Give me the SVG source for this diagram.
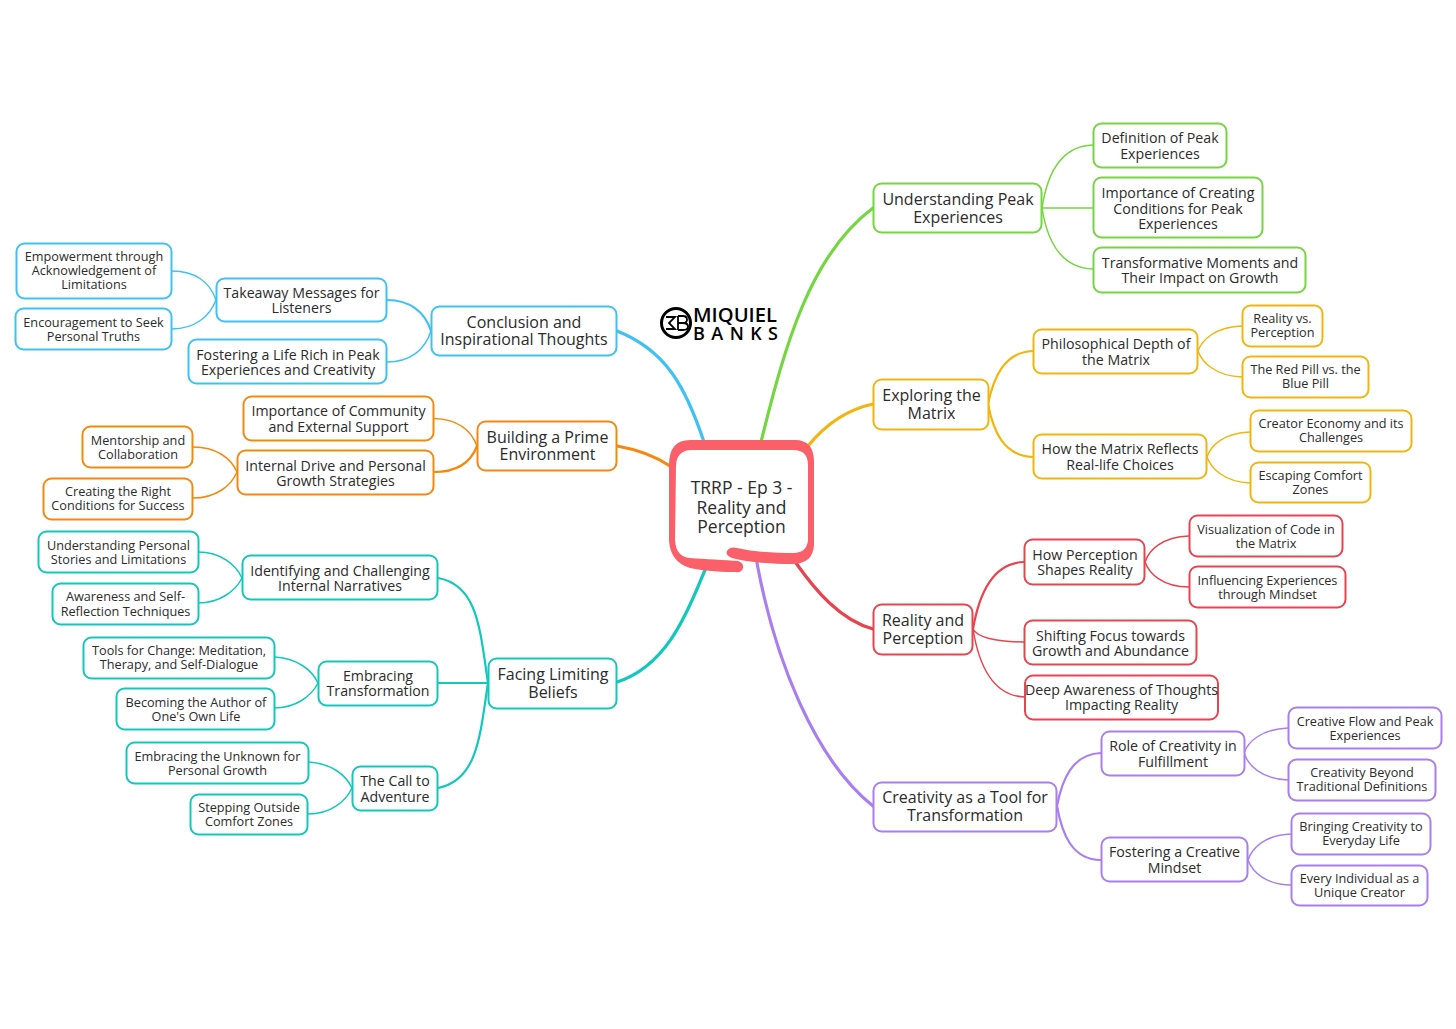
<svg xmlns="http://www.w3.org/2000/svg" width="1456" height="1029" viewBox="0 0 1456 1029">
<style>
text{font-family:"Open Sans","Noto Sans",sans-serif;fill:#2b2b2b;text-anchor:middle}
.a text{font-size:16px}.b text{font-size:14.2px}.c text{font-size:12.7px}
rect{fill:#fff;stroke-width:2}
path{fill:none}
.g rect{stroke:#74d640}.g path,path.g{stroke:#74d640}
.y rect{stroke:#f2b50f}path.y{stroke:#f2b50f}
.r rect{stroke:#e8434f}path.r{stroke:#e8434f}
.p rect{stroke:#a97ff0}path.p{stroke:#a97ff0}
.s rect{stroke:#3fc1f5}path.s{stroke:#3fc1f5}
.o rect{stroke:#f5880f}path.o{stroke:#f5880f}
.t rect{stroke:#12c8bc}path.t{stroke:#12c8bc}
.w1{stroke-width:3.2}.w2{stroke-width:2.2}.w3{stroke-width:1.5}
</style>
<rect x="0" y="0" width="1456" height="1029" style="fill:#fff;stroke:none"/>
<g id="connectors" stroke-linecap="round">
<path class="g w1" d="M761 442C785 345 810 255 873 208"/>
<path class="y w1" d="M808 446C825 425 845 410 873 404"/>
<path class="r w1" d="M796 563C815 590 840 620 873 629"/>
<path class="p w1" d="M757 563C775 660 815 760 873 806"/>
<path class="s w1" d="M704 442C685 385 665 350 617 331"/>
<path class="o w1" d="M670 466C655 456 640 450 617 446"/>
<path class="t w1" d="M705 570C690 605 670 665 617 682"/>
<path class="g w3" d="M1042 208C1047 175 1060 146 1093 145M1042 208H1093M1042 208C1047 240 1060 268 1093 269"/>
<path class="y w2" d="M988 404C993 380 1003 352 1033 351M988 404C993 430 1003 456 1033 457"/>
<path class="y w3" d="M1198 351C1202 340 1215 327 1242 326M1198 351C1202 362 1215 376 1242 377M1207 457C1211 445 1224 433 1250 432M1207 457C1211 468 1224 482 1250 483"/>
<path class="r w2" d="M973 629C978 600 990 563 1024 562"/>
<path class="r w3" d="M973 629C977 637 995 642 1024 642M973 629C978 660 990 696 1025 697M1145 562C1149 550 1162 537 1189 536M1145 562C1149 573 1162 587 1189 587"/>
<path class="p w2" d="M1057 806C1062 780 1072 754 1101 753M1057 806C1062 834 1072 860 1101 860"/>
<path class="p w3" d="M1244 753C1248 742 1261 729 1288 728M1244 753C1248 765 1261 779 1288 780M1248 860C1252 848 1265 835 1291 834M1248 860C1252 871 1265 885 1291 885"/>
<path class="s w2" d="M431 331C425 312 410 300 387 300"/>
<path class="s w3" d="M431 331C425 350 410 362 387 362M216 300C210 282 195 271 172 271M216 300C210 316 195 329 172 329"/>
<path class="o w3" d="M477 446C471 430 457 419 434 418.500M237 472C231 458 216 447 193 447M237 472C231 486 216 498 193 498"/>
<path class="o w2" d="M477 446C471 462 457 472 434 472"/>
<path class="t w2" d="M488 683C480 630 478 585 438 578M488 683H438M488 683C480 735 478 780 438 788"/>
<path class="t w3" d="M242 578C236 565 221 552 198 552M242 578C236 590 221 603 198 603M318 683C312 670 297 658 274 657M318 683C312 695 297 708 274 708M352 788C346 775 331 763 308 762M352 788C346 801 331 814 308 814"/>
</g>
<g id="logo">
<circle cx="676" cy="323" r="14.500" fill="none" stroke="#000" stroke-width="3"/>
<path d="M666 317H675L669 323L675 329H666M678 316V330M678 316H683Q687 316 687 319.500Q687 323 683 323H678M683 323Q688 323 688 326.500Q688 330 683 330H678" fill="none" stroke="#000" stroke-width="1.800"/>
<text x="693" y="322" textLength="84" lengthAdjust="spacingAndGlyphs" style="font-size:19.500px;font-weight:600;fill:#000;text-anchor:start">MIQUIEL</text>
<text x="693" y="340" textLength="85" lengthAdjust="spacing" style="font-size:18px;font-weight:600;fill:#000;text-anchor:start">BANKS</text>
</g>
<g id="root">
<path d="M690 440H795Q814 440 814 462V545Q813 564 792 564C770 564 745 562 732 558Q725 555 727 551Q730 546 737 548C755 552 775 553 795 553Q807 552 808 540V465Q808 450 793 450H692Q676 450 676 467L675 540Q676 557 690 558C705 559 725 560 738 561Q744 563 743 568Q742 573 735 572C715 572 700 570 690 568Q670 562 669 540V465Q669 440 690 440Z" style="fill:#fb5f69"/>
<text x="741.500" y="494" style="font-size:17.500px">TRRP - Ep 3 -</text>
<text x="741.500" y="513.500" style="font-size:17.500px">Reality and</text>
<text x="741.500" y="533" style="font-size:17.500px">Perception</text>
</g>
<g class="a g" id="n1"><rect x="873.500" y="183.500" width="168" height="49" rx="8"/><text x="958" y="204.500">Understanding Peak</text><text x="958" y="222.500">Experiences</text></g>
<g class="b g" id="n1a"><rect x="1093.500" y="123.500" width="133" height="44" rx="8"/><text x="1160" y="143">Definition of Peak</text><text x="1160" y="159">Experiences</text></g>
<g class="b g" id="n1b"><rect x="1093.500" y="177.500" width="169" height="60" rx="8"/><text x="1178" y="198">Importance of Creating</text><text x="1178" y="213.500">Conditions for Peak</text><text x="1178" y="229">Experiences</text></g>
<g class="b g" id="n1c"><rect x="1093.500" y="247.500" width="212" height="45" rx="8"/><text x="1200" y="267.500">Transformative Moments and</text><text x="1200" y="283">Their Impact on Growth</text></g>
<g class="a y" id="n2"><rect x="873.500" y="379.500" width="115" height="50" rx="8"/><text x="931.500" y="400.500">Exploring the</text><text x="931.500" y="418.500">Matrix</text></g>
<g class="b y" id="n2a"><rect x="1033.500" y="329.500" width="164" height="44" rx="8"/><text x="1116" y="349">Philosophical Depth of</text><text x="1116" y="365">the Matrix</text></g>
<g class="c y" id="n2a1"><rect x="1242.500" y="305.500" width="80" height="41" rx="8"/><text x="1282.500" y="323">Reality vs.</text><text x="1282.500" y="337">Perception</text></g>
<g class="c y" id="n2a2"><rect x="1242.500" y="356.500" width="126" height="41" rx="8"/><text x="1305.500" y="374">The Red Pill vs. the</text><text x="1305.500" y="388">Blue Pill</text></g>
<g class="b y" id="n2b"><rect x="1033.500" y="434.500" width="173" height="44" rx="8"/><text x="1120" y="454">How the Matrix Reflects</text><text x="1120" y="470">Real-life Choices</text></g>
<g class="c y" id="n2b1"><rect x="1250.500" y="410.500" width="161" height="41" rx="8"/><text x="1331" y="428">Creator Economy and its</text><text x="1331" y="442">Challenges</text></g>
<g class="c y" id="n2b2"><rect x="1250.500" y="462.500" width="120" height="40" rx="8"/><text x="1310.500" y="480">Escaping Comfort</text><text x="1310.500" y="494">Zones</text></g>
<g class="a r" id="n3"><rect x="873.500" y="604.500" width="99" height="50" rx="8"/><text x="923" y="626">Reality and</text><text x="923" y="644">Perception</text></g>
<g class="b r" id="n3a"><rect x="1024.500" y="539.500" width="120" height="45" rx="8"/><text x="1085" y="559.500">How Perception</text><text x="1085" y="575">Shapes Reality</text></g>
<g class="c r" id="n3a1"><rect x="1189.500" y="515.500" width="153" height="41" rx="8"/><text x="1266" y="533.500">Visualization of Code in</text><text x="1266" y="547.500">the Matrix</text></g>
<g class="c r" id="n3a2"><rect x="1189.500" y="566.500" width="156" height="41" rx="8"/><text x="1267.500" y="584.500">Influencing Experiences</text><text x="1267.500" y="598.500">through Mindset</text></g>
<g class="b r" id="n3b"><rect x="1024.500" y="620.500" width="172" height="44" rx="8"/><text x="1110.500" y="640.500">Shifting Focus towards</text><text x="1110.500" y="656">Growth and Abundance</text></g>
<g class="b r" id="n3c"><rect x="1025" y="675.500" width="193" height="44" rx="8"/><text x="1121.500" y="694.500">Deep Awareness of Thoughts</text><text x="1121.500" y="710">Impacting Reality</text></g>
<g class="a p" id="n4"><rect x="873.500" y="782.500" width="183" height="49" rx="8"/><text x="965" y="803">Creativity as a Tool for</text><text x="965" y="821">Transformation</text></g>
<g class="b p" id="n4a"><rect x="1101.500" y="731.500" width="143" height="44" rx="8"/><text x="1173" y="751">Role of Creativity in</text><text x="1173" y="767">Fulfillment</text></g>
<g class="c p" id="n4a1"><rect x="1288.500" y="707.500" width="153" height="41" rx="8"/><text x="1365" y="725.500">Creative Flow and Peak</text><text x="1365" y="739.500">Experiences</text></g>
<g class="c p" id="n4a2"><rect x="1288.500" y="759.500" width="147" height="41" rx="8"/><text x="1362" y="777">Creativity Beyond</text><text x="1362" y="791">Traditional Definitions</text></g>
<g class="b p" id="n4b"><rect x="1101.500" y="837.500" width="146" height="44" rx="8"/><text x="1174.500" y="857">Fostering a Creative</text><text x="1174.500" y="873">Mindset</text></g>
<g class="c p" id="n4b1"><rect x="1291.500" y="813.500" width="139" height="41" rx="8"/><text x="1361" y="831">Bringing Creativity to</text><text x="1361" y="845">Everyday Life</text></g>
<g class="c p" id="n4b2"><rect x="1291.500" y="865.500" width="136" height="40" rx="8"/><text x="1359.500" y="883">Every Individual as a</text><text x="1359.500" y="897">Unique Creator</text></g>
<g class="a s" id="n5"><rect x="431.500" y="306.500" width="185" height="49" rx="8"/><text x="524" y="327.500">Conclusion and</text><text x="524" y="345">Inspirational Thoughts</text></g>
<g class="b s" id="n5a"><rect x="216.500" y="278.500" width="170" height="43" rx="8"/><text x="301.500" y="298">Takeaway Messages for</text><text x="301.500" y="313">Listeners</text></g>
<g class="c s" id="n5a1"><rect x="16.500" y="243.500" width="155" height="55" rx="8"/><text x="94" y="261">Empowerment through</text><text x="94" y="275">Acknowledgement of</text><text x="94" y="289">Limitations</text></g>
<g class="c s" id="n5a2"><rect x="15.500" y="308.500" width="156" height="41" rx="8"/><text x="93.500" y="327">Encouragement to Seek</text><text x="93.500" y="341">Personal Truths</text></g>
<g class="b s" id="n5b"><rect x="188.500" y="339.500" width="198" height="44" rx="8"/><text x="288" y="359.500">Fostering a Life Rich in Peak</text><text x="288" y="375">Experiences and Creativity</text></g>
<g class="a o" id="n6"><rect x="477.500" y="421.500" width="139" height="49" rx="8"/><text x="547.500" y="442.500">Building a Prime</text><text x="547.500" y="460">Environment</text></g>
<g class="b o" id="n6a"><rect x="243.500" y="396.500" width="190" height="44" rx="8"/><text x="338.500" y="416">Importance of Community</text><text x="338.500" y="432">and External Support</text></g>
<g class="b o" id="n6b"><rect x="237.500" y="450.500" width="196" height="44" rx="8"/><text x="335.500" y="470.500">Internal Drive and Personal</text><text x="335.500" y="486">Growth Strategies</text></g>
<g class="c o" id="n6b1"><rect x="82.500" y="426.500" width="110" height="41" rx="8"/><text x="138" y="444.500">Mentorship and</text><text x="138" y="458.500">Collaboration</text></g>
<g class="c o" id="n6b2"><rect x="43.500" y="478.500" width="149" height="41" rx="8"/><text x="118" y="496">Creating the Right</text><text x="118" y="510">Conditions for Success</text></g>
<g class="a t" id="n7"><rect x="488.500" y="658.500" width="128" height="50" rx="8"/><text x="553" y="680">Facing Limiting</text><text x="553" y="697.500">Beliefs</text></g>
<g class="b t" id="n7a"><rect x="242.500" y="555.500" width="195" height="44" rx="8"/><text x="340" y="575.500">Identifying and Challenging</text><text x="340" y="591">Internal Narratives</text></g>
<g class="c t" id="n7a1"><rect x="38.500" y="531.500" width="160" height="41" rx="8"/><text x="118.500" y="549.500">Understanding Personal</text><text x="118.500" y="564">Stories and Limitations</text></g>
<g class="c t" id="n7a2"><rect x="52.500" y="583.500" width="146" height="41" rx="8"/><text x="125.500" y="601">Awareness and Self-</text><text x="125.500" y="615.500">Reflection Techniques</text></g>
<g class="b t" id="n7b"><rect x="318.500" y="661.500" width="119" height="44" rx="8"/><text x="378" y="681">Embracing</text><text x="378" y="696">Transformation</text></g>
<g class="c t" id="n7b1"><rect x="83.500" y="637.500" width="191" height="41" rx="8"/><text x="179" y="655">Tools for Change: Meditation,</text><text x="179" y="669">Therapy, and Self-Dialogue</text></g>
<g class="c t" id="n7b2"><rect x="116.500" y="688.500" width="158" height="41" rx="8"/><text x="196" y="706.500">Becoming the Author of</text><text x="196" y="720.500">One's Own Life</text></g>
<g class="b t" id="n7c"><rect x="352.500" y="766.500" width="85" height="44" rx="8"/><text x="395" y="786">The Call to</text><text x="395" y="802">Adventure</text></g>
<g class="c t" id="n7c1"><rect x="126.500" y="742.500" width="182" height="41" rx="8"/><text x="217.500" y="760.500">Embracing the Unknown for</text><text x="217.500" y="774.500">Personal Growth</text></g>
<g class="c t" id="n7c2"><rect x="190.500" y="794.500" width="117" height="40" rx="8"/><text x="249" y="812">Stepping Outside</text><text x="249" y="826">Comfort Zones</text></g>
</svg>
